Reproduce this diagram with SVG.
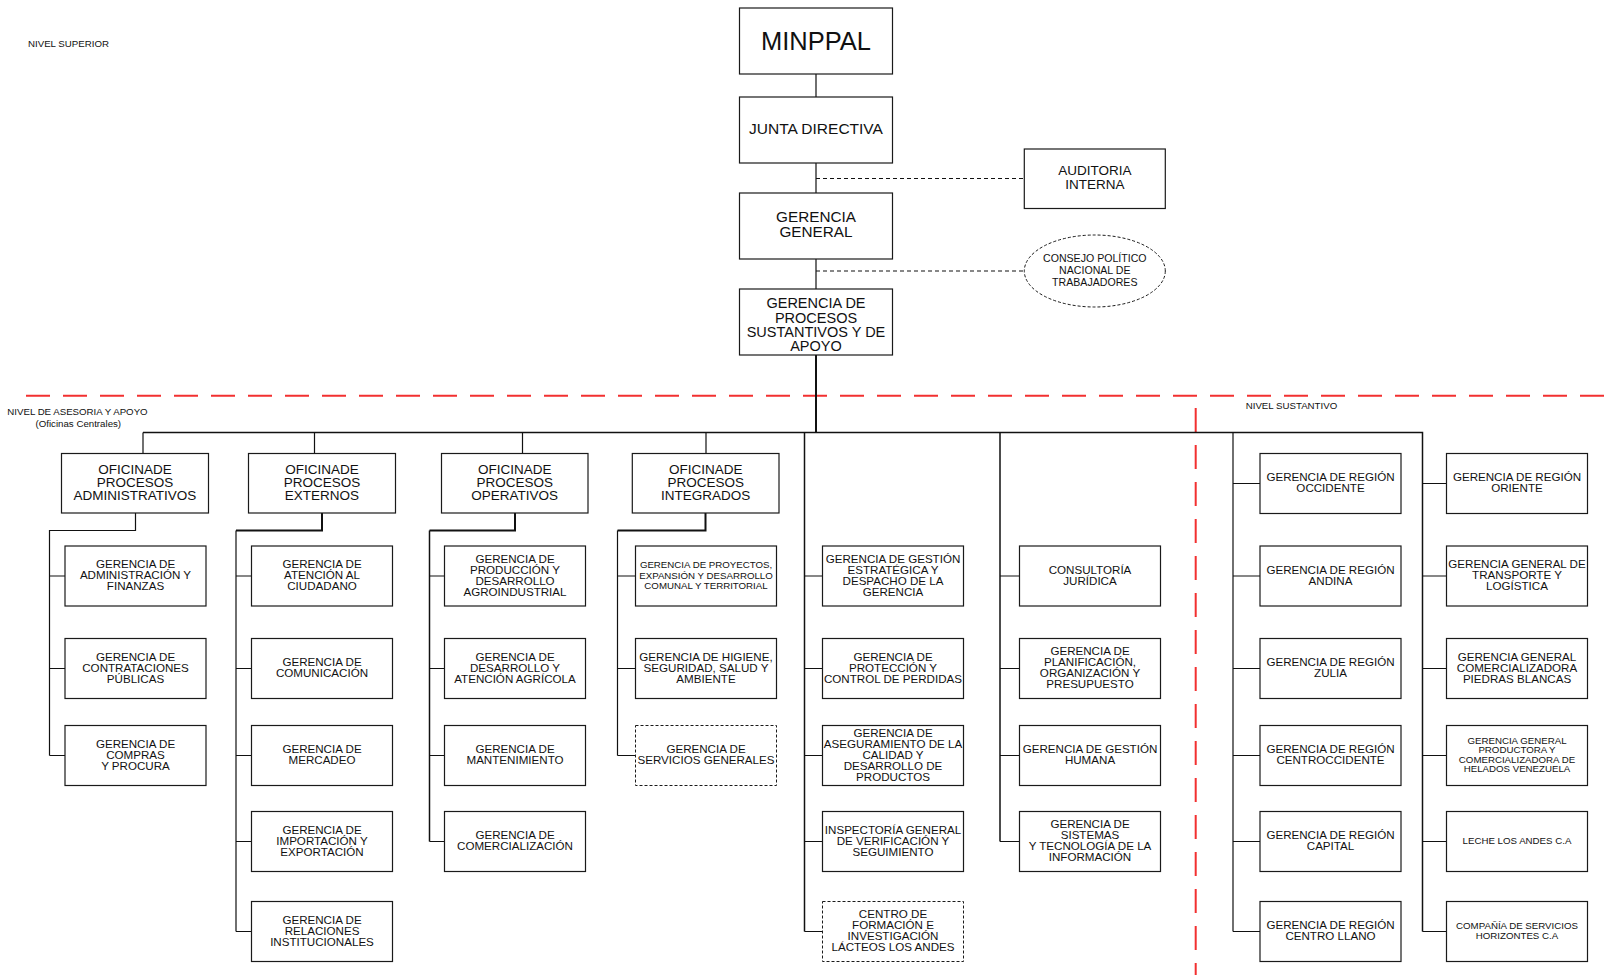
<svg xmlns="http://www.w3.org/2000/svg" width="1606" height="975" viewBox="0 0 1606 975">
<style>
.box{fill:#fff;stroke:#1a1a1a;stroke-width:1.2}
.dbox{fill:#fff;stroke:#1a1a1a;stroke-width:1;stroke-dasharray:3 2}
.t{font-family:"Liberation Sans",Arial,sans-serif;fill:#111;text-anchor:middle}
.l{font-family:"Liberation Sans",Arial,sans-serif;fill:#111;font-size:9.7px}
.s{font-size:11.6px}
.xs{font-size:9.7px}
.o{font-size:13.5px}
.ln{stroke:#111;stroke-width:1.2;fill:none}
.th{stroke-width:2}
.md{stroke-width:1.5}
.dl{stroke-dasharray:4 3}
.red{stroke:#f23030;stroke-width:2;stroke-dasharray:24 13;fill:none}
</style>
<rect width="1606" height="975" fill="#fff"/>

<g id="levels">
<path class="red" d="M26 395.7 H1606"/>
<path class="red" d="M1195.7 408 V975"/>
<text class="l" x="28" y="47">NIVEL SUPERIOR</text>
<text class="l" x="7.3" y="415">NIVEL DE ASESORIA Y APOYO</text>
<text class="l" x="78.3" y="426.5" text-anchor="middle">(Oficinas Centrales)</text>
<text class="l" x="1245.7" y="409">NIVEL SUSTANTIVO</text>
</g>

<g id="connectors">
<path class="ln" d="M816 74 V97 M816 163 V193 M816 259 V289"/>
<path class="ln th" d="M816 355 V432.5"/>
<path class="ln dl" d="M816 178.5 H1024 M816 271 H1024.5"/>
<path class="ln md" d="M143 432.5 H1422.5 V931.5"/>
<path class="ln" d="M143 432.5 V453.5"/>
<path class="ln" d="M314.5 432.5 V453.5 M522.5 432.5 V453.5 M706 432.5 V453.5"/>
<path class="ln" d="M135.5 513 V530.5 H49.5 V755.5 M49.5 576 H65 M49.5 668.5 H65 M49.5 755.5 H65"/>
<path class="ln th" d="M322 513 V530.5 H236"/>
<path class="ln" d="M236 530.5 V931.5 M236 576 H251.5 M236 668.5 H251.5 M236 755.5 H251.5 M236 841.5 H251.5 M236 931.5 H251.5"/>
<path class="ln th" d="M515 513 V530.5 H429.5"/>
<path class="ln md" d="M429.5 530.5 V841.5"/>
<path class="ln" d="M429.5 576 H444.5 M429.5 668.5 H444.5 M429.5 755.5 H444.5 M429.5 841.5 H444.5"/>
<path class="ln th" d="M705.5 513 V530.5 H617.5"/>
<path class="ln" d="M617.5 530.5 V755.5 M617.5 576 H635.5 M617.5 668.5 H635.5 M617.5 755.5 H635.5"/>
<path class="ln md" d="M804.5 432.5 V931.5"/>
<path class="ln" d="M804.5 576 H822.5 M804.5 668.5 H822.5 M804.5 755.5 H822.5 M804.5 841.5 H822.5 M804.5 931.5 H822.5"/>
<path class="ln md" d="M1000 432.5 V841.5"/>
<path class="ln" d="M1000 576 H1019.5 M1000 668.5 H1019.5 M1000 755.5 H1019.5 M1000 841.5 H1019.5"/>
<path class="ln" d="M1233 432.5 V931.5 M1233 483.5 H1260 M1233 576 H1260 M1233 668.5 H1260 M1233 755.5 H1260 M1233 841.5 H1260 M1233 931.5 H1260"/>
<path class="ln" d="M1422.5 483.5 H1446.5 M1422.5 576 H1446.5 M1422.5 668.5 H1446.5 M1422.5 755.5 H1446.5 M1422.5 841.5 H1446.5 M1422.5 931.5 H1446.5"/>
</g>

<g id="minppal"><rect class="box" x="739.5" y="8" width="153" height="66"/><text class="t" x="816" y="49.5" font-size="25.5">MINPPAL</text></g>
<g id="junta"><rect class="box" x="739.5" y="97" width="153" height="66"/><text class="t" x="816" y="133.5" font-size="15.5">JUNTA DIRECTIVA</text></g>
<g id="gerencia-general"><rect class="box" x="739.5" y="193" width="153" height="66"/><text class="t" font-size="15.3"><tspan x="816" y="222.3">GERENCIA</tspan><tspan x="816" y="237.3">GENERAL</tspan></text></g>
<g id="gpsa"><rect class="box" x="739.5" y="289" width="153" height="66"/><text class="t" font-size="14.5"><tspan x="816" y="308.3">GERENCIA DE</tspan><tspan x="816" y="322.5">PROCESOS</tspan><tspan x="816" y="336.7">SUSTANTIVOS Y DE</tspan><tspan x="816" y="351">APOYO</tspan></text></g>
<g id="auditoria"><rect class="box" x="1024.3" y="149" width="141" height="59.5"/><text class="t" font-size="13.5"><tspan x="1094.8" y="175">AUDITORIA</tspan><tspan x="1094.8" y="188.7">INTERNA</tspan></text></g>
<g id="consejo"><ellipse cx="1094.8" cy="271" rx="70.5" ry="36" fill="#fff" stroke="#1a1a1a" stroke-width="1" stroke-dasharray="3 2"/><text class="t" font-size="10.6"><tspan x="1094.8" y="262.3">CONSEJO POLÍTICO</tspan><tspan x="1094.8" y="274.2">NACIONAL DE</tspan><tspan x="1094.8" y="286">TRABAJADORES</tspan></text></g>

<g id="of-admin"><rect class="box" x="61.5" y="453.5" width="147" height="59.5"/><text class="t o"><tspan x="135" y="473.5">OFICINADE</tspan><tspan x="135" y="486.5">PROCESOS</tspan><tspan x="135" y="499.5">ADMINISTRATIVOS</tspan></text></g>
<g id="of-externos"><rect class="box" x="248.5" y="453.5" width="147" height="59.5"/><text class="t o"><tspan x="322" y="473.5">OFICINADE</tspan><tspan x="322" y="486.5">PROCESOS</tspan><tspan x="322" y="499.5">EXTERNOS</tspan></text></g>
<g id="of-operativos"><rect class="box" x="441.5" y="453.5" width="146.5" height="59.5"/><text class="t o"><tspan x="514.7" y="473.5">OFICINADE</tspan><tspan x="514.7" y="486.5">PROCESOS</tspan><tspan x="514.7" y="499.5">OPERATIVOS</tspan></text></g>
<g id="of-integrados"><rect class="box" x="632.3" y="453.5" width="146.7" height="59.5"/><text class="t o"><tspan x="705.7" y="473.5">OFICINADE</tspan><tspan x="705.7" y="486.5">PROCESOS</tspan><tspan x="705.7" y="499.5">INTEGRADOS</tspan></text></g>

<g id="c1r1"><rect class="box" x="65" y="546" width="141" height="60"/><text class="t s"><tspan x="135.5" y="568">GERENCIA DE</tspan><tspan x="135.5" y="579">ADMINISTRACIÓN Y</tspan><tspan x="135.5" y="590">FINANZAS</tspan></text></g>
<g id="c1r2"><rect class="box" x="65" y="638.5" width="141" height="60"/><text class="t s"><tspan x="135.5" y="660.5">GERENCIA DE</tspan><tspan x="135.5" y="671.5">CONTRATACIONES</tspan><tspan x="135.5" y="682.5">PÚBLICAS</tspan></text></g>
<g id="c1r3"><rect class="box" x="65" y="725.5" width="141" height="60"/><text class="t s"><tspan x="135.5" y="747.5">GERENCIA DE</tspan><tspan x="135.5" y="758.5">COMPRAS</tspan><tspan x="135.5" y="769.5">Y PROCURA</tspan></text></g>

<g id="c2r1"><rect class="box" x="251.5" y="546" width="141" height="60"/><text class="t s"><tspan x="322" y="568">GERENCIA DE</tspan><tspan x="322" y="579">ATENCIÓN AL</tspan><tspan x="322" y="590">CIUDADANO</tspan></text></g>
<g id="c2r2"><rect class="box" x="251.5" y="638.5" width="141" height="60"/><text class="t s"><tspan x="322" y="666">GERENCIA DE</tspan><tspan x="322" y="677">COMUNICACIÓN</tspan></text></g>
<g id="c2r3"><rect class="box" x="251.5" y="725.5" width="141" height="60"/><text class="t s"><tspan x="322" y="753">GERENCIA DE</tspan><tspan x="322" y="764">MERCADEO</tspan></text></g>
<g id="c2r4"><rect class="box" x="251.5" y="811.5" width="141" height="60"/><text class="t s"><tspan x="322" y="833.5">GERENCIA DE</tspan><tspan x="322" y="844.5">IMPORTACIÓN Y</tspan><tspan x="322" y="855.5">EXPORTACIÓN</tspan></text></g>
<g id="c2r5"><rect class="box" x="251.5" y="901.5" width="141" height="60"/><text class="t s"><tspan x="322" y="923.5">GERENCIA DE</tspan><tspan x="322" y="934.5">RELACIONES</tspan><tspan x="322" y="945.5">INSTITUCIONALES</tspan></text></g>

<g id="c3r1"><rect class="box" x="444.5" y="546" width="141" height="60"/><text class="t s"><tspan x="515" y="562.5">GERENCIA DE</tspan><tspan x="515" y="573.5">PRODUCCIÓN Y</tspan><tspan x="515" y="584.5">DESARROLLO</tspan><tspan x="515" y="595.5">AGROINDUSTRIAL</tspan></text></g>
<g id="c3r2"><rect class="box" x="444.5" y="638.5" width="141" height="60"/><text class="t s"><tspan x="515" y="660.5">GERENCIA DE</tspan><tspan x="515" y="671.5">DESARROLLO Y</tspan><tspan x="515" y="682.5">ATENCIÓN AGRÍCOLA</tspan></text></g>
<g id="c3r3"><rect class="box" x="444.5" y="725.5" width="141" height="60"/><text class="t s"><tspan x="515" y="753">GERENCIA DE</tspan><tspan x="515" y="764">MANTENIMIENTO</tspan></text></g>
<g id="c3r4"><rect class="box" x="444.5" y="811.5" width="141" height="60"/><text class="t s"><tspan x="515" y="839">GERENCIA DE</tspan><tspan x="515" y="850">COMERCIALIZACIÓN</tspan></text></g>

<g id="c4r1"><rect class="box" x="635.5" y="546" width="141" height="60"/><text class="t xs"><tspan x="706" y="567.5">GERENCIA DE PROYECTOS,</tspan><tspan x="706" y="578.5">EXPANSIÓN Y DESARROLLO</tspan><tspan x="706" y="589">COMUNAL Y TERRITORIAL</tspan></text></g>
<g id="c4r2"><rect class="box" x="635.5" y="638.5" width="141" height="60"/><text class="t s"><tspan x="706" y="660.5">GERENCIA DE HIGIENE,</tspan><tspan x="706" y="671.5">SEGURIDAD, SALUD Y</tspan><tspan x="706" y="682.5">AMBIENTE</tspan></text></g>
<g id="c4r3"><rect class="dbox" x="635.5" y="725.5" width="141" height="60"/><text class="t s"><tspan x="706" y="753">GERENCIA DE</tspan><tspan x="706" y="764">SERVICIOS GENERALES</tspan></text></g>

<g id="c5r1"><rect class="box" x="822.5" y="546" width="141" height="60"/><text class="t s"><tspan x="893" y="562.5">GERENCIA DE GESTIÓN</tspan><tspan x="893" y="573.5">ESTRATÉGICA Y</tspan><tspan x="893" y="584.5">DESPACHO DE LA</tspan><tspan x="893" y="595.5">GERENCIA</tspan></text></g>
<g id="c5r2"><rect class="box" x="822.5" y="638.5" width="141" height="60"/><text class="t s"><tspan x="893" y="660.5">GERENCIA DE</tspan><tspan x="893" y="671.5">PROTECCIÓN Y</tspan><tspan x="893" y="682.5">CONTROL DE PERDIDAS</tspan></text></g>
<g id="c5r3"><rect class="box" x="822.5" y="725.5" width="141" height="60"/><text class="t s"><tspan x="893" y="736.5">GERENCIA DE</tspan><tspan x="893" y="747.5">ASEGURAMIENTO DE LA</tspan><tspan x="893" y="758.5">CALIDAD Y</tspan><tspan x="893" y="769.5">DESARROLLO DE</tspan><tspan x="893" y="780.5">PRODUCTOS</tspan></text></g>
<g id="c5r4"><rect class="box" x="822.5" y="811.5" width="141" height="60"/><text class="t s"><tspan x="893" y="833.5">INSPECTORÍA GENERAL</tspan><tspan x="893" y="844.5">DE VERIFICACIÓN Y</tspan><tspan x="893" y="855.5">SEGUIMIENTO</tspan></text></g>
<g id="c5r5"><rect class="dbox" x="822.5" y="901.5" width="141" height="60"/><text class="t s"><tspan x="893" y="918">CENTRO DE</tspan><tspan x="893" y="929">FORMACIÓN E</tspan><tspan x="893" y="940">INVESTIGACIÓN</tspan><tspan x="893" y="951">LÁCTEOS LOS ANDES</tspan></text></g>

<g id="c6r1"><rect class="box" x="1019.5" y="546" width="141" height="60"/><text class="t s"><tspan x="1090" y="573.5">CONSULTORÍA</tspan><tspan x="1090" y="584.5">JURÍDICA</tspan></text></g>
<g id="c6r2"><rect class="box" x="1019.5" y="638.5" width="141" height="60"/><text class="t s"><tspan x="1090" y="655">GERENCIA DE</tspan><tspan x="1090" y="666">PLANIFICACIÓN,</tspan><tspan x="1090" y="677">ORGANIZACIÓN Y</tspan><tspan x="1090" y="688">PRESUPUESTO</tspan></text></g>
<g id="c6r3"><rect class="box" x="1019.5" y="725.5" width="141" height="60"/><text class="t s"><tspan x="1090" y="753">GERENCIA DE GESTIÓN</tspan><tspan x="1090" y="764">HUMANA</tspan></text></g>
<g id="c6r4"><rect class="box" x="1019.5" y="811.5" width="141" height="60"/><text class="t s"><tspan x="1090" y="828">GERENCIA DE</tspan><tspan x="1090" y="839">SISTEMAS</tspan><tspan x="1090" y="850">Y TECNOLOGÍA DE LA</tspan><tspan x="1090" y="861">INFORMACIÓN</tspan></text></g>

<g id="c7r0"><rect class="box" x="1260" y="453.5" width="141" height="60"/><text class="t s"><tspan x="1330.5" y="481">GERENCIA DE REGIÓN</tspan><tspan x="1330.5" y="492">OCCIDENTE</tspan></text></g>
<g id="c7r1"><rect class="box" x="1260" y="546" width="141" height="60"/><text class="t s"><tspan x="1330.5" y="573.5">GERENCIA DE REGIÓN</tspan><tspan x="1330.5" y="584.5">ANDINA</tspan></text></g>
<g id="c7r2"><rect class="box" x="1260" y="638.5" width="141" height="60"/><text class="t s"><tspan x="1330.5" y="666">GERENCIA DE REGIÓN</tspan><tspan x="1330.5" y="677">ZULIA</tspan></text></g>
<g id="c7r3"><rect class="box" x="1260" y="725.5" width="141" height="60"/><text class="t s"><tspan x="1330.5" y="753">GERENCIA DE REGIÓN</tspan><tspan x="1330.5" y="764">CENTROCCIDENTE</tspan></text></g>
<g id="c7r4"><rect class="box" x="1260" y="811.5" width="141" height="60"/><text class="t s"><tspan x="1330.5" y="839">GERENCIA DE REGIÓN</tspan><tspan x="1330.5" y="850">CAPITAL</tspan></text></g>
<g id="c7r5"><rect class="box" x="1260" y="901.5" width="141" height="60"/><text class="t s"><tspan x="1330.5" y="929">GERENCIA DE REGIÓN</tspan><tspan x="1330.5" y="940">CENTRO LLANO</tspan></text></g>

<g id="c8r0"><rect class="box" x="1446.5" y="453.5" width="141" height="60"/><text class="t s"><tspan x="1517" y="481">GERENCIA DE REGIÓN</tspan><tspan x="1517" y="492">ORIENTE</tspan></text></g>
<g id="c8r1"><rect class="box" x="1446.5" y="546" width="141" height="60"/><text class="t s"><tspan x="1517" y="568">GERENCIA GENERAL DE</tspan><tspan x="1517" y="579">TRANSPORTE Y</tspan><tspan x="1517" y="590">LOGÍSTICA</tspan></text></g>
<g id="c8r2"><rect class="box" x="1446.5" y="638.5" width="141" height="60"/><text class="t s"><tspan x="1517" y="660.5">GERENCIA GENERAL</tspan><tspan x="1517" y="671.5">COMERCIALIZADORA</tspan><tspan x="1517" y="682.5">PIEDRAS BLANCAS</tspan></text></g>
<g id="c8r3"><rect class="box" x="1446.5" y="725.5" width="141" height="60"/><text class="t xs"><tspan x="1517" y="743.5">GERENCIA GENERAL</tspan><tspan x="1517" y="753">PRODUCTORA Y</tspan><tspan x="1517" y="762.5">COMERCIALIZADORA DE</tspan><tspan x="1517" y="772">HELADOS VENEZUELA</tspan></text></g>
<g id="c8r4"><rect class="box" x="1446.5" y="811.5" width="141" height="60"/><text class="t xs" x="1517" y="844">LECHE LOS ANDES C.A</text></g>
<g id="c8r5"><rect class="box" x="1446.5" y="901.5" width="141" height="60"/><text class="t xs"><tspan x="1517" y="929">COMPAÑÍA DE SERVICIOS</tspan><tspan x="1517" y="939">HORIZONTES C.A</tspan></text></g>
</svg>
